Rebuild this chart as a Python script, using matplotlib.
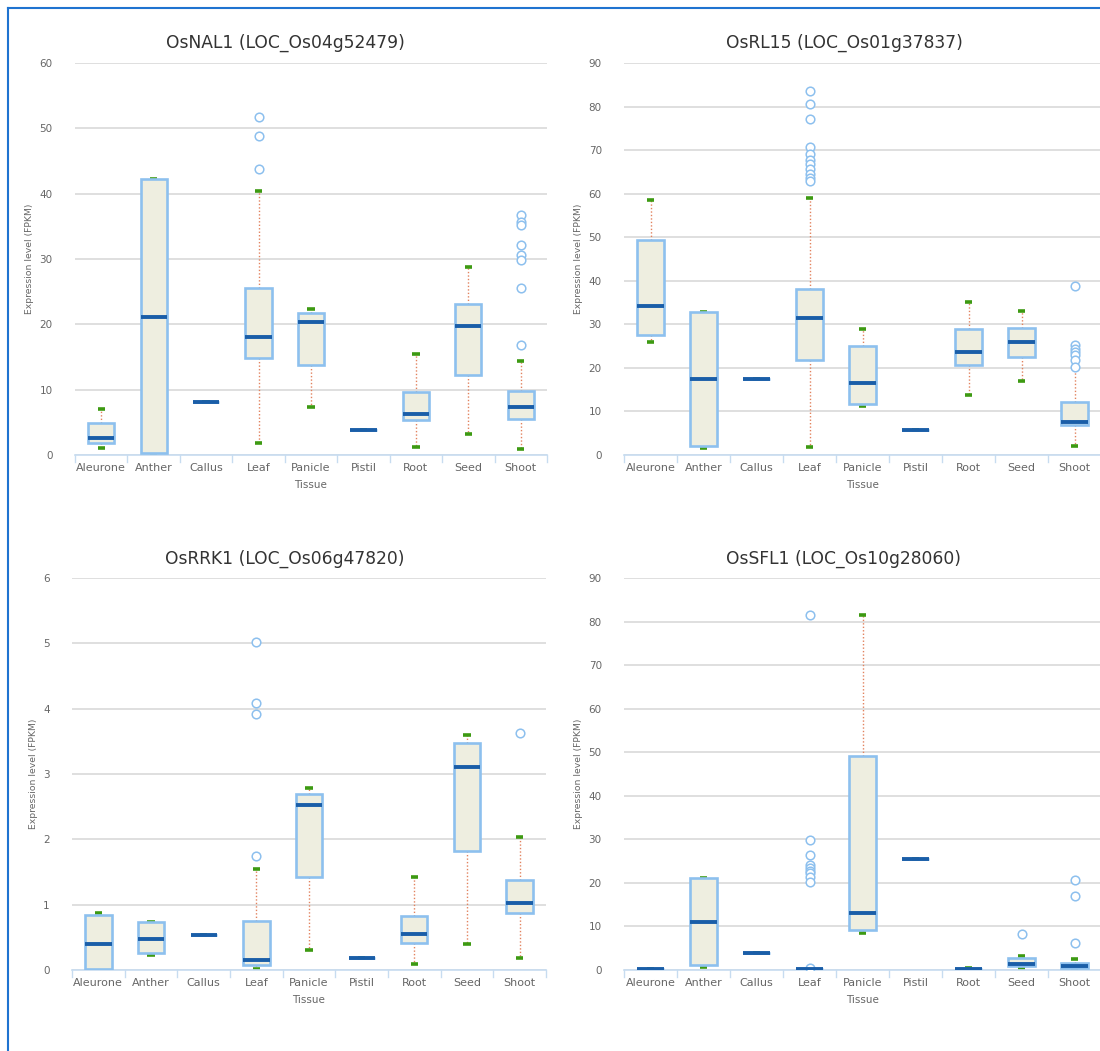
import matplotlib
matplotlib.use("Agg")
import matplotlib.pyplot as plt
from matplotlib.lines import Line2D

plt.rcParams['font.family'] = ['DejaVu Sans']

tissues = ["Aleurone", "Anther", "Callus", "Leaf", "Panicle", "Pistil", "Root", "Seed", "Shoot"]

# ---- OsNAL1 ----
nal1_title = "OsNAL1 (LOC_Os04g52479)"
nal1_whislo = [1.0, 0.1, 8.1, 1.8, 7.35, 3.8, 1.3, 3.2, 0.85]
nal1_q1 = [1.84, 0.25, 8.1, 14.8, 13.7, 3.8, 5.4, 12.2, 5.55]
nal1_med = [2.65, 21.1, 8.1, 18.0, 20.4, 3.8, 6.3, 19.8, 7.4]
nal1_q3 = [4.95, 42.2, 8.1, 25.6, 21.7, 3.8, 9.7, 23.05, 9.75]
nal1_whishi = [7.0, 42.2, 8.1, 40.4, 22.3, 3.8, 15.5, 28.7, 14.45]
nal1_fliers = [[], [], [], [51.7, 48.9, 43.7], [], [], [], [],
               [36.8, 35.6, 35.2, 32.2, 30.6, 29.8, 25.5, 16.8]]
nal1_ymax, nal1_step = 60, 10

# ---- OsRL15 ----
rl15_title = "OsRL15 (LOC_Os01g37837)"
rl15_whislo = [26.0, 1.7, 17.4, 1.9, 11.3, 5.7, 13.8, 17.0, 2.0]
rl15_q1 = [27.6, 2.0, 17.4, 21.7, 11.8, 5.7, 20.7, 22.6, 6.8]
rl15_med = [34.3, 17.4, 17.4, 31.5, 16.5, 5.7, 23.7, 26.0, 7.6]
rl15_q3 = [49.4, 32.85, 17.4, 38.2, 25.0, 5.7, 28.9, 29.2, 12.1]
rl15_whishi = [58.5, 32.85, 17.4, 59.0, 29.0, 5.7, 35.1, 33.0, 20.1]
rl15_fliers = [[], [], [], [83.6, 80.5, 77.1, 70.6, 69.2, 67.8, 66.7, 65.6, 64.6, 63.6, 62.8],
               [], [], [], [], [38.8, 25.2, 24.4, 23.6, 22.9, 21.9, 20.3]]
rl15_ymax, rl15_step = 90, 10

# ---- OsRRK1 ----
rrk1_title = "OsRRK1 (LOC_Os06g47820)"
rrk1_whislo = [0.01, 0.225, 0.54, 0.01, 0.31, 0.19, 0.09, 0.40, 0.18]
rrk1_q1 = [0.01, 0.256, 0.54, 0.07, 1.42, 0.19, 0.41, 1.82, 0.88]
rrk1_med = [0.395, 0.47, 0.54, 0.155, 2.53, 0.19, 0.55, 3.11, 1.03]
rrk1_q3 = [0.846, 0.735, 0.54, 0.745, 2.70, 0.19, 0.82, 3.47, 1.37]
rrk1_whishi = [0.88, 0.735, 0.54, 1.54, 2.79, 0.19, 1.42, 3.59, 2.03]
rrk1_fliers = [[], [], [], [5.02, 4.09, 3.92, 1.75], [], [], [], [], [3.62]]
rrk1_ymax, rrk1_step = 6, 1

# ---- OsSFL1 ----
sfl1_title = "OsSFL1 (LOC_Os10g28060)"
sfl1_whislo = [0.2, 0.8, 3.9, 0.1, 8.5, 25.5, 0.15, 0.15, 0.05]
sfl1_q1 = [0.2, 1.1, 3.9, 0.15, 9.1, 25.5, 0.15, 1.0, 0.5]
sfl1_med = [0.2, 11.0, 3.9, 0.2, 13.0, 25.5, 0.2, 1.4, 0.9]
sfl1_q3 = [0.2, 21.2, 3.9, 0.25, 49.1, 25.5, 0.25, 2.7, 1.7]
sfl1_whishi = [0.2, 21.2, 3.9, 0.3, 81.6, 25.5, 0.45, 3.1, 2.5]
sfl1_fliers = [[], [], [], [81.5, 29.85, 26.5, 24.2, 23.5, 22.8, 22.2, 21.4, 20.2, 0.45],
               [], [], [], [8.2], [20.7, 17.0, 6.2]]
sfl1_ymax, sfl1_step = 90, 10

W, H = 1100, 1051
fig = plt.figure(figsize=(W / 100, H / 100), dpi=100)
fig.patch.set_facecolor("white")

BOX_EDGE = "#8dc0ee"
BOX_FACE = "#eeeee0"
MED = "#1a5ea8"
WHISK = "#e2825e"
CAP = "#3d9a12"
GRID = "#d9d9d9"
AXIS = "#c7dcf0"
TXT = "#666666"

def px_axes(l, r, t, b):
    return fig.add_axes([l / W, 1 - b / H, (r - l) / W, (b - t) / H])

def panel(rect, title, title_xy, wlo, q1, med, q3, whi, fl, ymax, step):
    ax = px_axes(*rect)
    stats = []
    for i, name in enumerate(tissues):
        stats.append(dict(label=name, whislo=wlo[i], q1=q1[i], med=med[i],
                          q3=q3[i], whishi=whi[i], fliers=fl[i]))
    ax.bxp(stats, positions=range(len(tissues)), widths=0.5, patch_artist=True,
           capwidths=0.14,
           boxprops=dict(facecolor=BOX_FACE, edgecolor=BOX_EDGE, linewidth=1.9, zorder=3),
           medianprops=dict(color=MED, linewidth=2.8, solid_capstyle='butt', zorder=5),
           whiskerprops=dict(color=WHISK, linewidth=1.0, linestyle=(0, (1, 1.5)), zorder=2),
           capprops=dict(color=CAP, linewidth=2.6, solid_capstyle='butt', zorder=2.5),
           flierprops=dict(marker='o', markerfacecolor='white', markeredgecolor=BOX_EDGE,
                           markersize=6.2, markeredgewidth=1.1, linestyle='none', zorder=4))
    ax.set_xlim(-0.5, len(tissues) - 0.5)
    ax.set_ylim(0, ymax)
    ax.set_yticks(range(0, ymax + 1, step))
    ax.yaxis.grid(True, color=GRID, linewidth=1.2, zorder=0)
    ax.set_axisbelow(True)
    for s in ["top", "right", "left"]:
        ax.spines[s].set_visible(False)
    ax.spines["bottom"].set_color(AXIS)
    ax.spines["bottom"].set_linewidth(1.2)
    ax.tick_params(axis='y', length=0, pad=16, labelsize=7.5, labelcolor=TXT)
    ax.tick_params(axis='x', length=0, pad=6, labelsize=8, labelcolor=TXT)
    ax.set_xticks(range(len(tissues)))
    ax.set_xticklabels(tissues)
    for k in range(len(tissues) + 1):
        ax.plot([k - 0.5, k - 0.5], [0, -0.018 * ymax], color=AXIS, linewidth=1.0,
                clip_on=False, zorder=1)
    fig.text(title_xy[0] / W, 1 - title_xy[1] / H, title, fontsize=12.3,
             color="#333333", ha="center", va="center")
    ax.set_xlabel("Tissue", fontsize=7.5, color=TXT, labelpad=5)
    ax.set_ylabel("Expression level (FPKM)", fontsize=6.7, color=TXT, labelpad=4)
    return ax

panel((75, 547, 63, 455), nal1_title, (285, 43), nal1_whislo, nal1_q1, nal1_med, nal1_q3,
      nal1_whishi, nal1_fliers, nal1_ymax, nal1_step)
panel((624, 1101, 63, 455), rl15_title, (844, 43), rl15_whislo, rl15_q1, rl15_med, rl15_q3,
      rl15_whishi, rl15_fliers, rl15_ymax, rl15_step)
panel((72, 546, 578, 970), rrk1_title, (285, 559), rrk1_whislo, rrk1_q1, rrk1_med, rrk1_q3,
      rrk1_whishi, rrk1_fliers, rrk1_ymax, rrk1_step)
panel((624, 1101, 578, 970), sfl1_title, (843, 559), sfl1_whislo, sfl1_q1, sfl1_med, sfl1_q3,
      sfl1_whishi, sfl1_fliers, sfl1_ymax, sfl1_step)

fig.add_artist(Line2D([8 / W, 8 / W], [0, 1 - 8 / H], color="#1f73d0", linewidth=1.5))
fig.add_artist(Line2D([8 / W, 1], [1 - 8 / H, 1 - 8 / H], color="#1f73d0", linewidth=1.5))

fig.savefig("out.png", dpi=100, facecolor="white")
